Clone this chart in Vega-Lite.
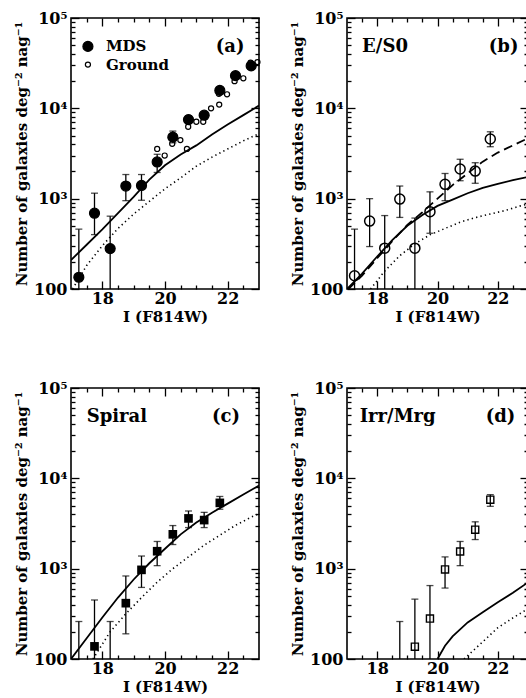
{
  "$schema": "https://vega.github.io/schema/vega-lite/v6.json",
  "background": "white",
  "padding": {"left": 13, "top": 9, "right": 0, "bottom": 0},
  "datasets": {
    "curves": [
      {"panel":"a","style":"solid","x":17,"n":209},{"panel":"a","style":"solid","x":17.5,"n":309},{"panel":"a","style":"solid","x":18,"n":457},{"panel":"a","style":"solid","x":18.5,"n":692},{"panel":"a","style":"solid","x":19,"n":1047},{"panel":"a","style":"solid","x":19.5,"n":1622},{"panel":"a","style":"solid","x":20,"n":2344},{"panel":"a","style":"solid","x":20.5,"n":3090},{"panel":"a","style":"solid","x":21,"n":3890},{"panel":"a","style":"solid","x":21.5,"n":5129},{"panel":"a","style":"solid","x":22,"n":6607},{"panel":"a","style":"solid","x":22.5,"n":8414},{"panel":"a","style":"solid","x":23,"n":10715},
      {"panel":"a","style":"dotted","x":17.05,"n":100},{"panel":"a","style":"dotted","x":17.5,"n":182},{"panel":"a","style":"dotted","x":18,"n":302},{"panel":"a","style":"dotted","x":18.5,"n":468},{"panel":"a","style":"dotted","x":19,"n":676},{"panel":"a","style":"dotted","x":19.5,"n":933},{"panel":"a","style":"dotted","x":20,"n":1288},{"panel":"a","style":"dotted","x":20.5,"n":1698},{"panel":"a","style":"dotted","x":21,"n":2291},{"panel":"a","style":"dotted","x":21.5,"n":2884},{"panel":"a","style":"dotted","x":22,"n":3548},{"panel":"a","style":"dotted","x":22.5,"n":4365},{"panel":"a","style":"dotted","x":23,"n":5248},
      {"panel":"b","style":"solid","x":17,"n":100},{"panel":"b","style":"solid","x":17.5,"n":148},{"panel":"b","style":"solid","x":18,"n":229},{"panel":"b","style":"solid","x":18.5,"n":347},{"panel":"b","style":"solid","x":19,"n":501},{"panel":"b","style":"solid","x":19.5,"n":661},{"panel":"b","style":"solid","x":20,"n":832},{"panel":"b","style":"solid","x":20.5,"n":977},{"panel":"b","style":"solid","x":21,"n":1148},{"panel":"b","style":"solid","x":21.5,"n":1318},{"panel":"b","style":"solid","x":22,"n":1462},{"panel":"b","style":"solid","x":22.5,"n":1603},{"panel":"b","style":"solid","x":23,"n":1738},
      {"panel":"b","style":"dashed","x":17.05,"n":100},{"panel":"b","style":"dashed","x":17.5,"n":141},{"panel":"b","style":"dashed","x":18,"n":219},{"panel":"b","style":"dashed","x":18.5,"n":339},{"panel":"b","style":"dashed","x":19,"n":513},{"panel":"b","style":"dashed","x":19.5,"n":708},{"panel":"b","style":"dashed","x":20,"n":1000},{"panel":"b","style":"dashed","x":20.5,"n":1413},{"panel":"b","style":"dashed","x":21,"n":1905},{"panel":"b","style":"dashed","x":21.5,"n":2570},{"panel":"b","style":"dashed","x":22,"n":3236},{"panel":"b","style":"dashed","x":22.5,"n":3890},{"panel":"b","style":"dashed","x":23,"n":4656},
      {"panel":"b","style":"dotted","x":17.78,"n":100},{"panel":"b","style":"dotted","x":18.25,"n":158},{"panel":"b","style":"dotted","x":18.75,"n":234},{"panel":"b","style":"dotted","x":19.25,"n":316},{"panel":"b","style":"dotted","x":19.75,"n":398},{"panel":"b","style":"dotted","x":20.25,"n":468},{"panel":"b","style":"dotted","x":20.75,"n":550},{"panel":"b","style":"dotted","x":21.25,"n":617},{"panel":"b","style":"dotted","x":21.75,"n":676},{"panel":"b","style":"dotted","x":22.25,"n":741},{"panel":"b","style":"dotted","x":22.75,"n":832},{"panel":"b","style":"dotted","x":23,"n":871},
      {"panel":"c","style":"solid","x":17,"n":100},{"panel":"c","style":"solid","x":17.5,"n":170},{"panel":"c","style":"solid","x":18,"n":288},{"panel":"c","style":"solid","x":18.5,"n":479},{"panel":"c","style":"solid","x":19,"n":759},{"panel":"c","style":"solid","x":19.5,"n":1148},{"panel":"c","style":"solid","x":20,"n":1660},{"panel":"c","style":"solid","x":20.5,"n":2399},{"panel":"c","style":"solid","x":21,"n":3236},{"panel":"c","style":"solid","x":21.5,"n":4169},{"panel":"c","style":"solid","x":22,"n":5248},{"panel":"c","style":"solid","x":22.5,"n":6607},{"panel":"c","style":"solid","x":23,"n":8318},
      {"panel":"c","style":"dotted","x":17.7,"n":100},{"panel":"c","style":"dotted","x":18.25,"n":200},{"panel":"c","style":"dotted","x":18.75,"n":316},{"panel":"c","style":"dotted","x":19.25,"n":479},{"panel":"c","style":"dotted","x":19.75,"n":708},{"panel":"c","style":"dotted","x":20.25,"n":1000},{"panel":"c","style":"dotted","x":20.75,"n":1349},{"panel":"c","style":"dotted","x":21.25,"n":1820},{"panel":"c","style":"dotted","x":21.75,"n":2344},{"panel":"c","style":"dotted","x":22.25,"n":3020},{"panel":"c","style":"dotted","x":22.75,"n":3715},{"panel":"c","style":"dotted","x":23,"n":4074},
      {"panel":"d","style":"solid","x":20,"n":100},{"panel":"d","style":"solid","x":20.25,"n":140},{"panel":"d","style":"solid","x":20.5,"n":178},{"panel":"d","style":"solid","x":21,"n":254},{"panel":"d","style":"solid","x":21.5,"n":330},{"panel":"d","style":"solid","x":22,"n":425},{"panel":"d","style":"solid","x":22.5,"n":540},{"panel":"d","style":"solid","x":23,"n":705},
      {"panel":"d","style":"dotted","x":20.88,"n":100},{"panel":"d","style":"dotted","x":21.25,"n":130},{"panel":"d","style":"dotted","x":21.5,"n":155},{"panel":"d","style":"dotted","x":22,"n":222},{"panel":"d","style":"dotted","x":22.5,"n":285},{"panel":"d","style":"dotted","x":23,"n":360}
    ],
    "pts": [
      {"panel":"a","series":"Ground","x":19.75,"n":3550},{"panel":"a","series":"Ground","x":19.99,"n":3000},{"panel":"a","series":"Ground","x":20.23,"n":4050},{"panel":"a","series":"Ground","x":20.49,"n":4450},{"panel":"a","series":"Ground","x":20.7,"n":3550},{"panel":"a","series":"Ground","x":20.74,"n":6250},{"panel":"a","series":"Ground","x":21.0,"n":7100},{"panel":"a","series":"Ground","x":21.22,"n":7100},{"panel":"a","series":"Ground","x":21.47,"n":10000},{"panel":"a","series":"Ground","x":21.73,"n":11000},{"panel":"a","series":"Ground","x":21.72,"n":14500},{"panel":"a","series":"Ground","x":21.98,"n":14300},{"panel":"a","series":"Ground","x":22.22,"n":20000},{"panel":"a","series":"Ground","x":22.5,"n":21500},{"panel":"a","series":"Ground","x":22.73,"n":32000},{"panel":"a","series":"Ground","x":22.95,"n":32500},
      {"panel":"a","series":"MDS","x":17.25,"n":135,"lo":90,"hi":460},{"panel":"a","series":"MDS","x":17.75,"n":690,"lo":400,"hi":1150},{"panel":"a","series":"MDS","x":18.25,"n":280,"lo":90,"hi":640},{"panel":"a","series":"MDS","x":18.75,"n":1380,"lo":950,"hi":1850},{"panel":"a","series":"MDS","x":19.25,"n":1400,"lo":960,"hi":1850},{"panel":"a","series":"MDS","x":19.75,"n":2550,"lo":1950,"hi":3100},{"panel":"a","series":"MDS","x":20.25,"n":4800,"lo":4150,"hi":5600},{"panel":"a","series":"MDS","x":20.75,"n":7500,"lo":6800,"hi":8300},{"panel":"a","series":"MDS","x":21.25,"n":8400,"lo":7600,"hi":9200},{"panel":"a","series":"MDS","x":21.75,"n":15800,"lo":14500,"hi":17000},{"panel":"a","series":"MDS","x":22.25,"n":23000,"lo":21500,"hi":24500},{"panel":"a","series":"MDS","x":22.75,"n":29500,"lo":27500,"hi":31500},
      {"panel":"b","series":"E/S0","x":17.25,"n":140,"lo":90,"hi":460},{"panel":"b","series":"E/S0","x":17.75,"n":565,"lo":295,"hi":1000},{"panel":"b","series":"E/S0","x":18.25,"n":283,"lo":90,"hi":650},{"panel":"b","series":"E/S0","x":18.75,"n":990,"lo":620,"hi":1380},{"panel":"b","series":"E/S0","x":19.25,"n":283,"lo":90,"hi":610},{"panel":"b","series":"E/S0","x":19.75,"n":718,"lo":414,"hi":1190},{"panel":"b","series":"E/S0","x":20.25,"n":1440,"lo":950,"hi":1900},{"panel":"b","series":"E/S0","x":20.75,"n":2130,"lo":1580,"hi":2730},{"panel":"b","series":"E/S0","x":21.25,"n":2020,"lo":1480,"hi":2500},{"panel":"b","series":"E/S0","x":21.75,"n":4580,"lo":3760,"hi":5500},
      {"panel":"c","series":"Spiral","x":17.25,"n":null,"lo":90,"hi":260},{"panel":"c","series":"Spiral","x":17.75,"n":138,"lo":90,"hi":450},{"panel":"c","series":"Spiral","x":18.25,"n":null,"lo":90,"hi":260},{"panel":"c","series":"Spiral","x":18.75,"n":415,"lo":190,"hi":830},{"panel":"c","series":"Spiral","x":19.25,"n":970,"lo":620,"hi":1380},{"panel":"c","series":"Spiral","x":19.75,"n":1560,"lo":1080,"hi":2000},{"panel":"c","series":"Spiral","x":20.25,"n":2400,"lo":1850,"hi":3000},{"panel":"c","series":"Spiral","x":20.75,"n":3600,"lo":2850,"hi":4350},{"panel":"c","series":"Spiral","x":21.25,"n":3450,"lo":2850,"hi":4200},{"panel":"c","series":"Spiral","x":21.75,"n":5350,"lo":4550,"hi":6300},
      {"panel":"d","series":"Irr/Mrg","x":18.75,"n":null,"lo":90,"hi":260},{"panel":"d","series":"Irr/Mrg","x":19.25,"n":137,"lo":90,"hi":460},{"panel":"d","series":"Irr/Mrg","x":19.75,"n":280,"lo":90,"hi":650},{"panel":"d","series":"Irr/Mrg","x":20.25,"n":980,"lo":610,"hi":1350},{"panel":"d","series":"Irr/Mrg","x":20.75,"n":1550,"lo":1080,"hi":2000},{"panel":"d","series":"Irr/Mrg","x":21.25,"n":2700,"lo":2100,"hi":3300},{"panel":"d","series":"Irr/Mrg","x":21.75,"n":5800,"lo":4900,"hi":6600}
    ],
    "key": [
      {"panel":"a","series":"MDS","x":17.54,"n":48500,"text":"MDS"},
      {"panel":"a","series":"Ground","x":17.54,"n":30500,"text":"Ground"}
    ],
    "labels": [
      {"panel":"a","x":21.62,"n":48000,"text":"(a)"},
      {"panel":"b","x":17.5,"n":48000,"text":"E/S0"},{"panel":"b","x":21.7,"n":48000,"text":"(b)"},
      {"panel":"c","x":17.5,"n":48000,"text":"Spiral"},{"panel":"c","x":21.5,"n":48000,"text":"(c)"},
      {"panel":"d","x":17.42,"n":48000,"text":"Irr/Mrg"},{"panel":"d","x":21.6,"n":48000,"text":"(d)"}
    ]
  },
  "columns": 2,
  "spacing": {"row": 99, "column": 88},
  "bounds": "flush",
  "concat": [
    {
      "width": 188, "height": 271,
      "resolve": {"axis": {"x": "independent", "y": "independent"}},
      "layer": [
        {"data": {"name": "curves"}, "transform": [{"filter": "datum.panel == 'a' && datum.style == 'solid'"}],
         "mark": {"type": "line", "color": "black", "strokeWidth": 1.8, "clip": true},
         "encoding": {
           "x": {"field": "x", "type": "quantitative", "scale": {"domain": [17, 23], "nice": false}, "axis": {"orient": "bottom", "values": [18, 20, 22], "tickSize": -8, "labelPadding": 9, "title": "I (F814W)", "titlePadding": 3}},
           "y": {"field": "n", "type": "quantitative", "scale": {"type": "log", "domain": [100, 100000], "nice": false}, "axis": {"orient": "left", "values": [100, 1000, 10000, 100000], "tickSize": -8, "labelPadding": 12, "labelExpr": "datum.value == 100 ? '100' : datum.value == 1000 ? '10³' : datum.value == 10000 ? '10⁴' : '10⁵'", "title": "Number of galaxies deg⁻² nag⁻¹", "titlePadding": 4}}}},
        {"data": {"name": "curves"}, "transform": [{"filter": "datum.panel == 'a' && datum.style == 'dotted'"}],
         "mark": {"type": "line", "color": "black", "strokeWidth": 1.6, "strokeDash": [1.3, 3.2], "clip": true},
         "encoding": {
           "x": {"field": "x", "type": "quantitative", "scale": {"domain": [17, 23], "nice": false}, "axis": {"orient": "bottom", "values": [17.5, 18.5, 19, 19.5, 20.5, 21, 21.5, 22.5], "tickSize": -4, "labels": false, "title": null}},
           "y": {"field": "n", "type": "quantitative", "scale": {"type": "log", "domain": [100, 100000], "nice": false}, "axis": {"orient": "left", "values": [200, 300, 400, 500, 600, 700, 800, 900, 2000, 3000, 4000, 5000, 6000, 7000, 8000, 9000, 20000, 30000, 40000, 50000, 60000, 70000, 80000, 90000], "tickSize": -4, "labels": false, "title": null}}}},
        {"data": {"name": "pts"}, "transform": [{"filter": "datum.panel == 'a' && isValid(datum.lo)"}],
         "mark": {"type": "rule", "color": "black", "strokeWidth": 1.3, "clip": true},
         "encoding": {
           "x": {"field": "x", "type": "quantitative", "scale": {"domain": [17, 23], "nice": false}, "axis": {"orient": "top", "values": [18, 20, 22], "tickSize": -8, "labels": false, "title": null}},
           "y": {"field": "lo", "type": "quantitative", "scale": {"type": "log", "domain": [100, 100000], "nice": false}, "axis": {"orient": "right", "values": [100, 1000, 10000, 100000], "tickSize": -8, "labels": false, "title": null}},
           "y2": {"field": "hi"}}},
        {"data": {"name": "pts"}, "transform": [{"filter": "datum.panel == 'a' && isValid(datum.hi)"}],
         "mark": {"type": "tick", "orient": "horizontal", "color": "black", "size": 7, "thickness": 1.3, "clip": true},
         "encoding": {
           "x": {"field": "x", "type": "quantitative", "scale": {"domain": [17, 23], "nice": false}, "axis": {"orient": "top", "values": [17.5, 18.5, 19, 19.5, 20.5, 21, 21.5, 22.5], "tickSize": -4, "labels": false, "title": null}},
           "y": {"field": "hi", "type": "quantitative", "scale": {"type": "log", "domain": [100, 100000], "nice": false}, "axis": {"orient": "right", "values": [200, 300, 400, 500, 600, 700, 800, 900, 2000, 3000, 4000, 5000, 6000, 7000, 8000, 9000, 20000, 30000, 40000, 50000, 60000, 70000, 80000, 90000], "tickSize": -4, "labels": false, "title": null}}}},
        {"data": {"name": "pts"}, "transform": [{"filter": "datum.panel == 'a' && datum.lo >= 100"}],
         "mark": {"type": "tick", "orient": "horizontal", "color": "black", "size": 7, "thickness": 1.3, "clip": true},
         "encoding": {
           "x": {"field": "x", "type": "quantitative", "scale": {"domain": [17, 23], "nice": false}, "axis": null},
           "y": {"field": "lo", "type": "quantitative", "scale": {"type": "log", "domain": [100, 100000], "nice": false}, "axis": null}}},
        {"data": {"name": "pts"}, "transform": [{"filter": "datum.panel == 'a' && isValid(datum.n)"}],
         "mark": {"type": "point", "shape": "circle", "filled": true, "stroke": "black", "strokeWidth": 1.2, "opacity": 1},
         "encoding": {
           "x": {"field": "x", "type": "quantitative", "scale": {"domain": [17, 23], "nice": false}, "axis": null},
           "y": {"field": "n", "type": "quantitative", "scale": {"type": "log", "domain": [100, 100000], "nice": false}, "axis": null},
           "fill": {"field": "series", "type": "nominal", "scale": {"domain": ["MDS", "Ground"], "range": ["black", "transparent"]}, "legend": null},
           "size": {"field": "series", "type": "nominal", "scale": {"domain": ["MDS", "Ground"], "range": [100, 26]}, "legend": null}}},
        {"data": {"name": "key"},
         "mark": {"type": "point", "shape": "circle", "filled": true, "stroke": "black", "strokeWidth": 1.2, "opacity": 1},
         "encoding": {
           "x": {"field": "x", "type": "quantitative", "scale": {"domain": [17, 23], "nice": false}, "axis": null},
           "y": {"field": "n", "type": "quantitative", "scale": {"type": "log", "domain": [100, 100000], "nice": false}, "axis": null},
           "fill": {"field": "series", "type": "nominal", "scale": {"domain": ["MDS", "Ground"], "range": ["black", "transparent"]}, "legend": null},
           "size": {"field": "series", "type": "nominal", "scale": {"domain": ["MDS", "Ground"], "range": [100, 26]}, "legend": null}}},
        {"data": {"name": "key"},
         "mark": {"type": "text", "align": "left", "baseline": "middle", "dx": 18, "font": "DejaVu Serif", "fontSize": 15, "fontWeight": "bold", "color": "black"},
         "encoding": {
           "x": {"field": "x", "type": "quantitative", "scale": {"domain": [17, 23], "nice": false}, "axis": null},
           "y": {"field": "n", "type": "quantitative", "scale": {"type": "log", "domain": [100, 100000], "nice": false}, "axis": null},
           "text": {"field": "text"}}},
        {"data": {"name": "labels"}, "transform": [{"filter": "datum.panel == 'a'"}],
         "mark": {"type": "text", "align": "left", "baseline": "middle", "font": "DejaVu Serif", "fontSize": 18, "fontWeight": "bold", "color": "black"},
         "encoding": {
           "x": {"field": "x", "type": "quantitative", "scale": {"domain": [17, 23], "nice": false}, "axis": null},
           "y": {"field": "n", "type": "quantitative", "scale": {"type": "log", "domain": [100, 100000], "nice": false}, "axis": null},
           "text": {"field": "text"}}}
      ]
    },
    {
      "width": 181, "height": 271,
      "resolve": {"axis": {"x": "independent", "y": "independent"}},
      "layer": [
        {"data": {"name": "curves"}, "transform": [{"filter": "datum.panel == 'b' && datum.style == 'solid'"}],
         "mark": {"type": "line", "color": "black", "strokeWidth": 1.8, "clip": true},
         "encoding": {
           "x": {"field": "x", "type": "quantitative", "scale": {"domain": [17, 23], "nice": false}, "axis": {"orient": "bottom", "values": [18, 20, 22], "tickSize": -8, "labelPadding": 9, "title": "I (F814W)", "titlePadding": 3}},
           "y": {"field": "n", "type": "quantitative", "scale": {"type": "log", "domain": [100, 100000], "nice": false}, "axis": {"orient": "left", "values": [100, 1000, 10000, 100000], "tickSize": -8, "labelPadding": 12, "labelExpr": "datum.value == 100 ? '100' : datum.value == 1000 ? '10³' : datum.value == 10000 ? '10⁴' : '10⁵'", "title": "Number of galaxies deg⁻² nag⁻¹", "titlePadding": 4}}}},
        {"data": {"name": "curves"}, "transform": [{"filter": "datum.panel == 'b' && datum.style == 'dotted'"}],
         "mark": {"type": "line", "color": "black", "strokeWidth": 1.6, "strokeDash": [1.3, 3.2], "clip": true},
         "encoding": {
           "x": {"field": "x", "type": "quantitative", "scale": {"domain": [17, 23], "nice": false}, "axis": {"orient": "bottom", "values": [17.5, 18.5, 19, 19.5, 20.5, 21, 21.5, 22.5], "tickSize": -4, "labels": false, "title": null}},
           "y": {"field": "n", "type": "quantitative", "scale": {"type": "log", "domain": [100, 100000], "nice": false}, "axis": {"orient": "left", "values": [200, 300, 400, 500, 600, 700, 800, 900, 2000, 3000, 4000, 5000, 6000, 7000, 8000, 9000, 20000, 30000, 40000, 50000, 60000, 70000, 80000, 90000], "tickSize": -4, "labels": false, "title": null}}}},
        {"data": {"name": "pts"}, "transform": [{"filter": "datum.panel == 'b' && isValid(datum.lo)"}],
         "mark": {"type": "rule", "color": "black", "strokeWidth": 1.3, "clip": true},
         "encoding": {
           "x": {"field": "x", "type": "quantitative", "scale": {"domain": [17, 23], "nice": false}, "axis": {"orient": "top", "values": [18, 20, 22], "tickSize": -8, "labels": false, "title": null}},
           "y": {"field": "lo", "type": "quantitative", "scale": {"type": "log", "domain": [100, 100000], "nice": false}, "axis": {"orient": "right", "values": [100, 1000, 10000, 100000], "tickSize": -8, "labels": false, "title": null}},
           "y2": {"field": "hi"}}},
        {"data": {"name": "pts"}, "transform": [{"filter": "datum.panel == 'b' && isValid(datum.hi)"}],
         "mark": {"type": "tick", "orient": "horizontal", "color": "black", "size": 7, "thickness": 1.3, "clip": true},
         "encoding": {
           "x": {"field": "x", "type": "quantitative", "scale": {"domain": [17, 23], "nice": false}, "axis": {"orient": "top", "values": [17.5, 18.5, 19, 19.5, 20.5, 21, 21.5, 22.5], "tickSize": -4, "labels": false, "title": null}},
           "y": {"field": "hi", "type": "quantitative", "scale": {"type": "log", "domain": [100, 100000], "nice": false}, "axis": {"orient": "right", "values": [200, 300, 400, 500, 600, 700, 800, 900, 2000, 3000, 4000, 5000, 6000, 7000, 8000, 9000, 20000, 30000, 40000, 50000, 60000, 70000, 80000, 90000], "tickSize": -4, "labels": false, "title": null}}}},
        {"data": {"name": "pts"}, "transform": [{"filter": "datum.panel == 'b' && datum.lo >= 100"}],
         "mark": {"type": "tick", "orient": "horizontal", "color": "black", "size": 7, "thickness": 1.3, "clip": true},
         "encoding": {
           "x": {"field": "x", "type": "quantitative", "scale": {"domain": [17, 23], "nice": false}, "axis": null},
           "y": {"field": "lo", "type": "quantitative", "scale": {"type": "log", "domain": [100, 100000], "nice": false}, "axis": null}}},
        {"data": {"name": "curves"}, "transform": [{"filter": "datum.panel == 'b' && datum.style == 'dashed'"}],
         "mark": {"type": "line", "color": "black", "strokeWidth": 1.8, "strokeDash": [9, 5], "clip": true},
         "encoding": {
           "x": {"field": "x", "type": "quantitative", "scale": {"domain": [17, 23], "nice": false}, "axis": null},
           "y": {"field": "n", "type": "quantitative", "scale": {"type": "log", "domain": [100, 100000], "nice": false}, "axis": null}}},
        {"data": {"name": "pts"}, "transform": [{"filter": "datum.panel == 'b' && isValid(datum.n)"}],
         "mark": {"type": "point", "shape": "circle", "filled": false, "stroke": "black", "strokeWidth": 1.5, "size": 100, "opacity": 1},
         "encoding": {
           "x": {"field": "x", "type": "quantitative", "scale": {"domain": [17, 23], "nice": false}, "axis": null},
           "y": {"field": "n", "type": "quantitative", "scale": {"type": "log", "domain": [100, 100000], "nice": false}, "axis": null}}},
        {"data": {"name": "labels"}, "transform": [{"filter": "datum.panel == 'b'"}],
         "mark": {"type": "text", "align": "left", "baseline": "middle", "font": "DejaVu Serif", "fontSize": 18, "fontWeight": "bold", "color": "black"},
         "encoding": {
           "x": {"field": "x", "type": "quantitative", "scale": {"domain": [17, 23], "nice": false}, "axis": null},
           "y": {"field": "n", "type": "quantitative", "scale": {"type": "log", "domain": [100, 100000], "nice": false}, "axis": null},
           "text": {"field": "text"}}}
      ]
    },
    {
      "width": 188, "height": 271,
      "resolve": {"axis": {"x": "independent", "y": "independent"}},
      "layer": [
        {"data": {"name": "curves"}, "transform": [{"filter": "datum.panel == 'c' && datum.style == 'solid'"}],
         "mark": {"type": "line", "color": "black", "strokeWidth": 1.8, "clip": true},
         "encoding": {
           "x": {"field": "x", "type": "quantitative", "scale": {"domain": [17, 23], "nice": false}, "axis": {"orient": "bottom", "values": [18, 20, 22], "tickSize": -8, "labelPadding": 9, "title": "I (F814W)", "titlePadding": 3}},
           "y": {"field": "n", "type": "quantitative", "scale": {"type": "log", "domain": [100, 100000], "nice": false}, "axis": {"orient": "left", "values": [100, 1000, 10000, 100000], "tickSize": -8, "labelPadding": 12, "labelExpr": "datum.value == 100 ? '100' : datum.value == 1000 ? '10³' : datum.value == 10000 ? '10⁴' : '10⁵'", "title": "Number of galaxies deg⁻² nag⁻¹", "titlePadding": 4}}}},
        {"data": {"name": "curves"}, "transform": [{"filter": "datum.panel == 'c' && datum.style == 'dotted'"}],
         "mark": {"type": "line", "color": "black", "strokeWidth": 1.6, "strokeDash": [1.3, 3.2], "clip": true},
         "encoding": {
           "x": {"field": "x", "type": "quantitative", "scale": {"domain": [17, 23], "nice": false}, "axis": {"orient": "bottom", "values": [17.5, 18.5, 19, 19.5, 20.5, 21, 21.5, 22.5], "tickSize": -4, "labels": false, "title": null}},
           "y": {"field": "n", "type": "quantitative", "scale": {"type": "log", "domain": [100, 100000], "nice": false}, "axis": {"orient": "left", "values": [200, 300, 400, 500, 600, 700, 800, 900, 2000, 3000, 4000, 5000, 6000, 7000, 8000, 9000, 20000, 30000, 40000, 50000, 60000, 70000, 80000, 90000], "tickSize": -4, "labels": false, "title": null}}}},
        {"data": {"name": "pts"}, "transform": [{"filter": "datum.panel == 'c' && isValid(datum.lo)"}],
         "mark": {"type": "rule", "color": "black", "strokeWidth": 1.3, "clip": true},
         "encoding": {
           "x": {"field": "x", "type": "quantitative", "scale": {"domain": [17, 23], "nice": false}, "axis": {"orient": "top", "values": [18, 20, 22], "tickSize": -8, "labels": false, "title": null}},
           "y": {"field": "lo", "type": "quantitative", "scale": {"type": "log", "domain": [100, 100000], "nice": false}, "axis": {"orient": "right", "values": [100, 1000, 10000, 100000], "tickSize": -8, "labels": false, "title": null}},
           "y2": {"field": "hi"}}},
        {"data": {"name": "pts"}, "transform": [{"filter": "datum.panel == 'c' && isValid(datum.hi)"}],
         "mark": {"type": "tick", "orient": "horizontal", "color": "black", "size": 7, "thickness": 1.3, "clip": true},
         "encoding": {
           "x": {"field": "x", "type": "quantitative", "scale": {"domain": [17, 23], "nice": false}, "axis": {"orient": "top", "values": [17.5, 18.5, 19, 19.5, 20.5, 21, 21.5, 22.5], "tickSize": -4, "labels": false, "title": null}},
           "y": {"field": "hi", "type": "quantitative", "scale": {"type": "log", "domain": [100, 100000], "nice": false}, "axis": {"orient": "right", "values": [200, 300, 400, 500, 600, 700, 800, 900, 2000, 3000, 4000, 5000, 6000, 7000, 8000, 9000, 20000, 30000, 40000, 50000, 60000, 70000, 80000, 90000], "tickSize": -4, "labels": false, "title": null}}}},
        {"data": {"name": "pts"}, "transform": [{"filter": "datum.panel == 'c' && datum.lo >= 100"}],
         "mark": {"type": "tick", "orient": "horizontal", "color": "black", "size": 7, "thickness": 1.3, "clip": true},
         "encoding": {
           "x": {"field": "x", "type": "quantitative", "scale": {"domain": [17, 23], "nice": false}, "axis": null},
           "y": {"field": "lo", "type": "quantitative", "scale": {"type": "log", "domain": [100, 100000], "nice": false}, "axis": null}}},
        {"data": {"name": "pts"}, "transform": [{"filter": "datum.panel == 'c' && isValid(datum.n)"}],
         "mark": {"type": "point", "shape": "square", "filled": true, "color": "black", "size": 75, "opacity": 1},
         "encoding": {
           "x": {"field": "x", "type": "quantitative", "scale": {"domain": [17, 23], "nice": false}, "axis": null},
           "y": {"field": "n", "type": "quantitative", "scale": {"type": "log", "domain": [100, 100000], "nice": false}, "axis": null}}},
        {"data": {"name": "labels"}, "transform": [{"filter": "datum.panel == 'c'"}],
         "mark": {"type": "text", "align": "left", "baseline": "middle", "font": "DejaVu Serif", "fontSize": 18, "fontWeight": "bold", "color": "black"},
         "encoding": {
           "x": {"field": "x", "type": "quantitative", "scale": {"domain": [17, 23], "nice": false}, "axis": null},
           "y": {"field": "n", "type": "quantitative", "scale": {"type": "log", "domain": [100, 100000], "nice": false}, "axis": null},
           "text": {"field": "text"}}}
      ]
    },
    {
      "width": 181, "height": 271,
      "resolve": {"axis": {"x": "independent", "y": "independent"}},
      "layer": [
        {"data": {"name": "curves"}, "transform": [{"filter": "datum.panel == 'd' && datum.style == 'solid'"}],
         "mark": {"type": "line", "color": "black", "strokeWidth": 1.8, "clip": true},
         "encoding": {
           "x": {"field": "x", "type": "quantitative", "scale": {"domain": [17, 23], "nice": false}, "axis": {"orient": "bottom", "values": [18, 20, 22], "tickSize": -8, "labelPadding": 9, "title": "I (F814W)", "titlePadding": 3}},
           "y": {"field": "n", "type": "quantitative", "scale": {"type": "log", "domain": [100, 100000], "nice": false}, "axis": {"orient": "left", "values": [100, 1000, 10000, 100000], "tickSize": -8, "labelPadding": 12, "labelExpr": "datum.value == 100 ? '100' : datum.value == 1000 ? '10³' : datum.value == 10000 ? '10⁴' : '10⁵'", "title": "Number of galaxies deg⁻² nag⁻¹", "titlePadding": 4}}}},
        {"data": {"name": "curves"}, "transform": [{"filter": "datum.panel == 'd' && datum.style == 'dotted'"}],
         "mark": {"type": "line", "color": "black", "strokeWidth": 1.6, "strokeDash": [1.3, 3.2], "clip": true},
         "encoding": {
           "x": {"field": "x", "type": "quantitative", "scale": {"domain": [17, 23], "nice": false}, "axis": {"orient": "bottom", "values": [17.5, 18.5, 19, 19.5, 20.5, 21, 21.5, 22.5], "tickSize": -4, "labels": false, "title": null}},
           "y": {"field": "n", "type": "quantitative", "scale": {"type": "log", "domain": [100, 100000], "nice": false}, "axis": {"orient": "left", "values": [200, 300, 400, 500, 600, 700, 800, 900, 2000, 3000, 4000, 5000, 6000, 7000, 8000, 9000, 20000, 30000, 40000, 50000, 60000, 70000, 80000, 90000], "tickSize": -4, "labels": false, "title": null}}}},
        {"data": {"name": "pts"}, "transform": [{"filter": "datum.panel == 'd' && isValid(datum.lo)"}],
         "mark": {"type": "rule", "color": "black", "strokeWidth": 1.3, "clip": true},
         "encoding": {
           "x": {"field": "x", "type": "quantitative", "scale": {"domain": [17, 23], "nice": false}, "axis": {"orient": "top", "values": [18, 20, 22], "tickSize": -8, "labels": false, "title": null}},
           "y": {"field": "lo", "type": "quantitative", "scale": {"type": "log", "domain": [100, 100000], "nice": false}, "axis": {"orient": "right", "values": [100, 1000, 10000, 100000], "tickSize": -8, "labels": false, "title": null}},
           "y2": {"field": "hi"}}},
        {"data": {"name": "pts"}, "transform": [{"filter": "datum.panel == 'd' && isValid(datum.hi)"}],
         "mark": {"type": "tick", "orient": "horizontal", "color": "black", "size": 7, "thickness": 1.3, "clip": true},
         "encoding": {
           "x": {"field": "x", "type": "quantitative", "scale": {"domain": [17, 23], "nice": false}, "axis": {"orient": "top", "values": [17.5, 18.5, 19, 19.5, 20.5, 21, 21.5, 22.5], "tickSize": -4, "labels": false, "title": null}},
           "y": {"field": "hi", "type": "quantitative", "scale": {"type": "log", "domain": [100, 100000], "nice": false}, "axis": {"orient": "right", "values": [200, 300, 400, 500, 600, 700, 800, 900, 2000, 3000, 4000, 5000, 6000, 7000, 8000, 9000, 20000, 30000, 40000, 50000, 60000, 70000, 80000, 90000], "tickSize": -4, "labels": false, "title": null}}}},
        {"data": {"name": "pts"}, "transform": [{"filter": "datum.panel == 'd' && datum.lo >= 100"}],
         "mark": {"type": "tick", "orient": "horizontal", "color": "black", "size": 7, "thickness": 1.3, "clip": true},
         "encoding": {
           "x": {"field": "x", "type": "quantitative", "scale": {"domain": [17, 23], "nice": false}, "axis": null},
           "y": {"field": "lo", "type": "quantitative", "scale": {"type": "log", "domain": [100, 100000], "nice": false}, "axis": null}}},
        {"data": {"name": "pts"}, "transform": [{"filter": "datum.panel == 'd' && isValid(datum.n)"}],
         "mark": {"type": "point", "shape": "square", "filled": false, "stroke": "black", "strokeWidth": 1.4, "size": 50, "opacity": 1},
         "encoding": {
           "x": {"field": "x", "type": "quantitative", "scale": {"domain": [17, 23], "nice": false}, "axis": null},
           "y": {"field": "n", "type": "quantitative", "scale": {"type": "log", "domain": [100, 100000], "nice": false}, "axis": null}}},
        {"data": {"name": "labels"}, "transform": [{"filter": "datum.panel == 'd'"}],
         "mark": {"type": "text", "align": "left", "baseline": "middle", "font": "DejaVu Serif", "fontSize": 18, "fontWeight": "bold", "color": "black"},
         "encoding": {
           "x": {"field": "x", "type": "quantitative", "scale": {"domain": [17, 23], "nice": false}, "axis": null},
           "y": {"field": "n", "type": "quantitative", "scale": {"type": "log", "domain": [100, 100000], "nice": false}, "axis": null},
           "text": {"field": "text"}}}
      ]
    }
  ],
  "config": {
    "view": {"stroke": "black", "strokeWidth": 1.6},
    "font": "DejaVu Serif",
    "axis": {"grid": false, "domain": false, "tickColor": "black", "tickWidth": 1.3, "labelColor": "black", "titleColor": "black", "labelFont": "DejaVu Serif", "titleFont": "DejaVu Serif", "labelFontSize": 16, "labelFontWeight": "bold", "titleFontSize": 15, "titleFontWeight": "bold"}
  }
}
